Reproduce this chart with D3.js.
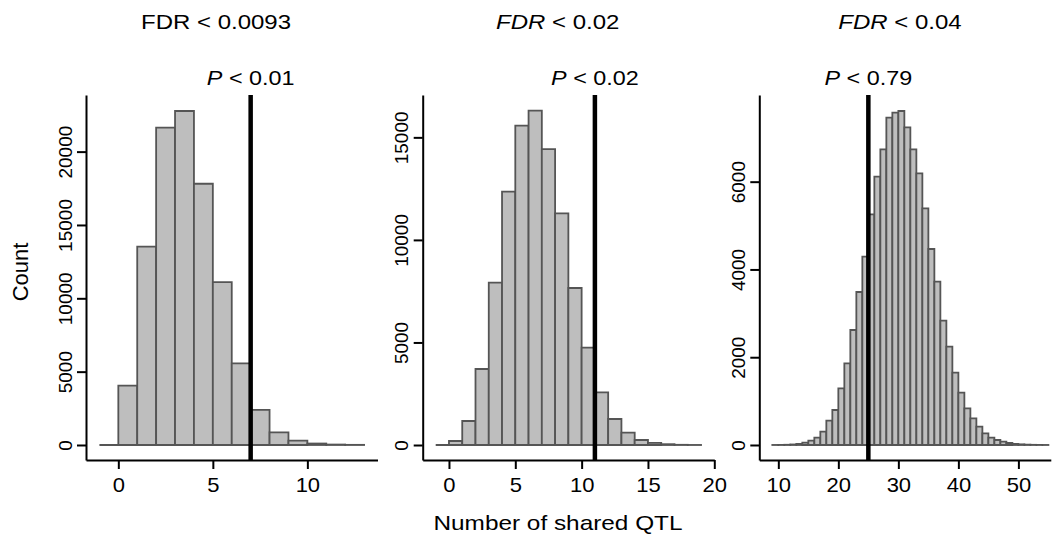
<!DOCTYPE html>
<html>
<head>
<meta charset="utf-8">
<script src="https://cdn.jsdelivr.net/npm/d3@7"></script>
<style>
  body { margin: 0; background: #fff; }
  text { font-family: "Liberation Sans", Arial, Helvetica, sans-serif; fill: #000; }
</style>
</head>
<body>
<div id="vis-container"></div>
<script>
const width = 1053,
    height = 536;

// permutation counts, bins of width 1
const binStart1 = -1;
const counts1 = [0, 4050, 13520, 21630, 22770, 17810, 11110, 5570, 2390, 865, 295, 100, 30, 10];

const binStart2 = -1;
const counts2 = [0, 195, 1170, 3705, 7915, 12350, 15570, 16300, 14430, 11295, 7655, 4745, 2570, 1268, 600, 244, 100, 40, 10, 3];

const binStart3 = 9;
const counts3 = [1, 2, 5, 12, 25, 53, 100, 167, 304, 554, 797, 1291, 1861, 2620, 3486, 4291, 5256, 6114,
    6737, 7458, 7572, 7610, 7238, 6737, 6190, 5392, 4466, 3721, 2833, 2240, 1648, 1192, 835, 608,
    418, 266, 167, 114, 76, 45, 25, 15, 8, 4, 2, 1];

// observed number of shared QTL
const observed = [7, 11, 25];
const fdrLabels = ["0.0093", "0.02", "0.04"];
const fdrItalic = [false, true, true];
const pLabels = ["0.01", "0.02", "0.79"];

const xTicks1 = [0, 5, 10];
const xTicks2 = [0, 5, 10, 15, 20];
const xTicks3 = [10, 20, 30, 40, 50];
const yTicks1 = [0, 5000, 10000, 15000, 20000];
const yTicks2 = [0, 5000, 10000, 15000];
const yTicks3 = [0, 2000, 4000, 6000];

// layout of the three plot regions
const plotTop = 95, plotBottom = 460;
const panels = [
  { start: binStart1, counts: counts1, xTicks: xTicks1, yTicks: yTicks1,
    left: 86, right: 377.5, xDom: [-1.71, 13.71], yDom: [-1023, 23860], titleX: 216 },
  { start: binStart2, counts: counts2, xTicks: xTicks2, yTicks: yTicks2,
    left: 422.7, right: 714.3, xDom: [-1.98, 20], yDom: [-731, 17065], titleX: 557.7 },
  { start: binStart3, counts: counts3, xTicks: xTicks3, yTicks: yTicks3,
    left: 759.3, right: 1050.8, xDom: [6.83, 55.4], yDom: [-342, 7975], titleX: 900 }
];

var svg = d3.select("#vis-container").append("svg")
    .attr("width", width)
    .attr("height", height);

panels.forEach(function(p, i) {
  var x = d3.scaleLinear().domain(p.xDom).range([p.left, p.right]);
  var y = d3.scaleLinear().domain(p.yDom).range([plotBottom, plotTop]);

  var g = svg.append("g");

  var bins = p.counts.map((c, k) => ({ x0: p.start + k, x1: p.start + k + 1, n: c }));

  g.selectAll("path.bar")
    .data(bins)
    .enter().append("path")
    .attr("class", "bar")
    .attr("d", d => "M" + x(d.x0) + "," + y(0) + "V" + y(d.n) + "H" + x(d.x1) + "V" + y(0) + "Z")
    .attr("fill", "#bebebe")
    .attr("stroke", "#555")
    .attr("stroke-width", 1.8);

  // observed value
  g.append("line")
    .attr("x1", x(observed[i])).attr("x2", x(observed[i]))
    .attr("y1", plotTop).attr("y2", plotBottom)
    .attr("stroke", "#000")
    .attr("stroke-width", 4.5);

  // axes
  var xAxis = g.append("g")
    .attr("transform", "translate(0," + plotBottom + ")")
    .call(d3.axisBottom(x).tickValues(p.xTicks).tickSize(9).tickSizeOuter(0).tickFormat(d3.format("d")));
  xAxis.selectAll("text")
    .attr("y", 32).attr("dy", 0)
    .attr("transform", "scale(1.1,1)")
    .style("font-size", "20px");

  var yAxis = g.append("g")
    .attr("transform", "translate(" + p.left + ",0)")
    .call(d3.axisLeft(y).tickValues(p.yTicks).tickSize(9).tickSizeOuter(0).tickFormat(d3.format("d")));
  yAxis.selectAll("text")
    .attr("x", 0).attr("y", -14.5).attr("dy", 0)
    .attr("text-anchor", "middle")
    .attr("transform", "rotate(-90)")
    .style("font-size", "19px");

  [xAxis, yAxis].forEach(function(a) {
    a.select(".domain").attr("stroke-width", 2);
    a.selectAll(".tick line").attr("stroke-width", 2);
  });

  // titles
  var t = svg.append("text")
    .attr("transform", "translate(" + p.titleX + ",29) scale(1.2,1)")
    .attr("text-anchor", "middle")
    .style("font-size", "20px");
  t.append("tspan").style("font-style", fdrItalic[i] ? "italic" : "normal").text("FDR");
  t.append("tspan").text(" < " + fdrLabels[i]);

  var pt = svg.append("text")
    .attr("transform", "translate(" + x(observed[i]) + ",85) scale(1.14,1)")
    .attr("text-anchor", "middle")
    .style("font-size", "20.5px");
  pt.append("tspan").style("font-style", "italic").text("P");
  pt.append("tspan").text(" < " + pLabels[i]);
});

svg.append("text")
    .attr("transform", "translate(28,272) rotate(-90)")
    .attr("text-anchor", "middle")
    .style("font-size", "22px")
    .text("Count");

svg.append("text")
    .attr("transform", "translate(558,530) scale(1.16,1)")
    .attr("text-anchor", "middle")
    .style("font-size", "21px")
    .text("Number of shared QTL");
</script>
</body>
</html>
